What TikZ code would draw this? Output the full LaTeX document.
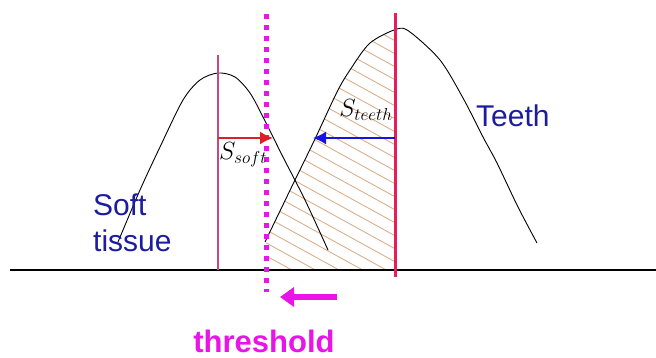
\documentclass[tikz,border=0pt]{standalone}
\usepackage{fontspec}
\setmainfont{Liberation Sans}
\usetikzlibrary{arrows.meta}
\definecolor{TissueBlue}{RGB}{28,28,160}
\definecolor{ThrMagenta}{RGB}{232,20,232}
\definecolor{PeakPink}{RGB}{200,70,130}
\definecolor{PeakRed}{RGB}{230,30,90}
\definecolor{ArrRed}{RGB}{222,30,40}
\definecolor{ArrBlue}{RGB}{20,20,220}
\definecolor{HatchTan}{RGB}{216,168,128}

\begin{document}
\begin{tikzpicture}[x=1pt,y=-1pt,
curve/.style={black,line width=0.9pt},
hatch/.style={draw=HatchTan,line width=0.8pt},
arrow/.style={-{Latex[length=13pt,width=13pt]},line width=1.6pt},
label/.style={text=TissueBlue,inner sep=0pt,font=\fontsize{30}{36}\selectfont},
sym/.style={inner sep=0pt,font=\fontsize{23}{26}\selectfont}]
\useasboundingbox (0,0) rectangle (656,358);
% hatched area under the teeth peak
\begin{scope}
\clip (266,0) rectangle (395,270);
\clip plot[smooth] coordinates {(265,242) (280,211) (295,180) (315,139) (337,92) (350,70) (370,43) (397,29) (410,32)} -- (410,270) -- (265,270) -- cycle;
\foreach \k in {-5,...,21} {\draw[hatch] (250,\k*13) -- ++(160,88);}
\end{scope}
% histogram peaks
\draw[curve] plot[smooth] coordinates {(118,242) (140,190) (160,147) (183,100) (200,80) (218,73) (235,77) (250,93) (263,117) (283,157) (305,200) (328,250)};
\draw[curve] plot[smooth] coordinates {(265,242) (280,211) (295,180) (315,139) (337,92) (350,70) (370,43) (397,29) (410,32) (440,60) (463,98) (483,137) (497,163) (518,207) (537,243)};
% axis and marker lines
\coordinate (axl) at (10,270);
\coordinate (axr) at (656,270);
\coordinate (softtop) at (218,55);
\coordinate (softbot) at (218,270);
\coordinate (teethtop) at (395,13);
\coordinate (teethbot) at (395,277);
\coordinate (thrtop) at (266,14);
\coordinate (thrbot) at (266,292);
\draw[line width=1.4pt] (axl) -- (axr);
\draw[PeakPink,line width=1.2pt] (softtop) -- (softbot);
\draw[PeakRed,line width=3pt] (teethtop) -- (teethbot);
\draw[ThrMagenta,line width=5pt,dash pattern=on 5pt off 6pt] (thrtop) -- (thrbot);
% distances to the threshold
\coordinate (softfrom) at (218,138);
\coordinate (softto) at (273,138);
\coordinate (teethfrom) at (395,138);
\coordinate (teethto) at (313,138);
\draw[arrow,ArrRed] (softfrom) -- (softto);
\draw[arrow,ArrBlue] (teethfrom) -- (teethto);
\node[sym] (ssoft) at (243,155) {$S_{soft}$};
\node[sym] (steeth) at (366,110) {$S_{teeth}$};
% labels
\node[label,anchor=north west,align=left] (soft) at (93,194) {Soft\\tissue};
\node[label,anchor=base west] (teeth) at (476,127) {Teeth};
\coordinate (thrfrom) at (337,297);
\coordinate (thrto) at (280,297);
\draw[-{Triangle[length=14pt,width=19pt]},line width=6pt,ThrMagenta] (thrfrom) -- (thrto);
\node[anchor=base,inner sep=0pt,text=ThrMagenta,font=\fontsize{31}{36}\selectfont\bfseries] (thr) at (264,352) {threshold};
\end{tikzpicture}
\end{document}
